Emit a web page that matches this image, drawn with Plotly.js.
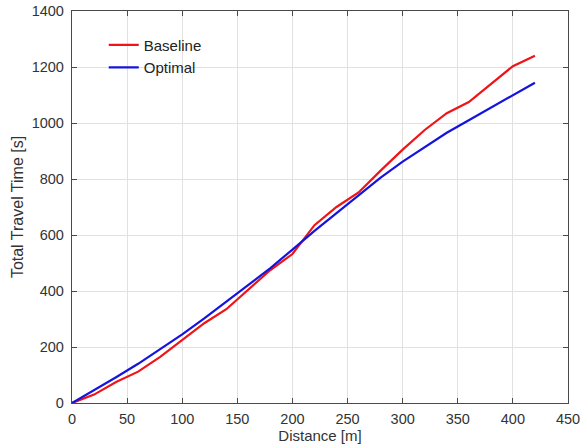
<!DOCTYPE html>
<html>
<head>
<meta charset="utf-8">
<script src="https://cdn.plot.ly/plotly-3.0.1.min.js"></script>
<style>html,body{margin:0;padding:0;background:#fff;}#chart{width:582px;height:446px;}</style>
</head>
<body>
<div id="chart"></div>
<script>
const distance = [0, 20, 40, 60, 80, 100, 120, 140, 160, 180, 200, 220, 240, 260, 280, 300, 320, 340, 360, 380, 400, 420];
const baseline = [0, 30, 75, 112, 165, 225, 285, 335, 405, 475, 532, 635, 700, 752, 830, 905, 975, 1035, 1075, 1140, 1203, 1240];
const optimal  = [0, 45, 92, 140, 192, 245, 302, 362, 420, 482, 548, 615, 678, 740, 805, 862, 915, 965, 1010, 1055, 1098, 1144];
const seriesNames = ['Baseline', 'Optimal'];
const xTicks = [0, 50, 100, 150, 200, 250, 300, 350, 400, 450];
const yTicks = [0, 200, 400, 600, 800, 1000, 1200, 1400];

const font = 'Liberation Sans, Arial, Helvetica, sans-serif';
const traces = [
  {x: distance, y: baseline, name: seriesNames[0], type: 'scatter', mode: 'lines',
   line: {color: 'rgb(238,20,24)', width: 2.2}},
  {x: distance, y: optimal, name: seriesNames[1], type: 'scatter', mode: 'lines',
   line: {color: 'rgb(20,20,222)', width: 2.2}}
];
const axisCommon = {
  showline: true, mirror: 'ticks', linecolor: '#4a4a4a', linewidth: 1.2,
  ticks: 'inside', ticklen: 5, tickcolor: '#4a4a4a',
  showgrid: true, gridcolor: '#e1e1e1', gridwidth: 1,
  zeroline: false,
  tickfont: {family: font, size: 14.5, color: '#333'},
};
const layout = {
  width: 582, height: 446,
  margin: {l: 72, r: 14, t: 11, b: 43},
  paper_bgcolor: '#fff', plot_bgcolor: '#fff',
  showlegend: true,
  legend: {x: 0.064, y: 0.955, xanchor: 'left', yanchor: 'top',
           bgcolor: 'rgba(255,255,255,0)', borderwidth: 0,
           font: {family: font, size: 15, color: '#222'}, tracegroupgap: 0},
  xaxis: Object.assign({}, axisCommon, {
    range: [0, 450], tickmode: 'array', tickvals: xTicks, ticktext: xTicks.map(String),
    ticklabelstandoff: 2,
    title: {text: 'Distance [m]', font: {family: font, size: 15, color: '#333'}, standoff: 1}
  }),
  yaxis: Object.assign({}, axisCommon, {
    range: [0, 1400], tickmode: 'array', tickvals: yTicks, ticktext: yTicks.map(String),
    ticklabelstandoff: 4,
    title: {text: 'Total Travel Time [s]', font: {family: font, size: 16, color: '#333'}, standoff: 4}
  })
};
Plotly.newPlot('chart', traces, layout, {displayModeBar: false, staticPlot: true});
</script>
</body>
</html>
